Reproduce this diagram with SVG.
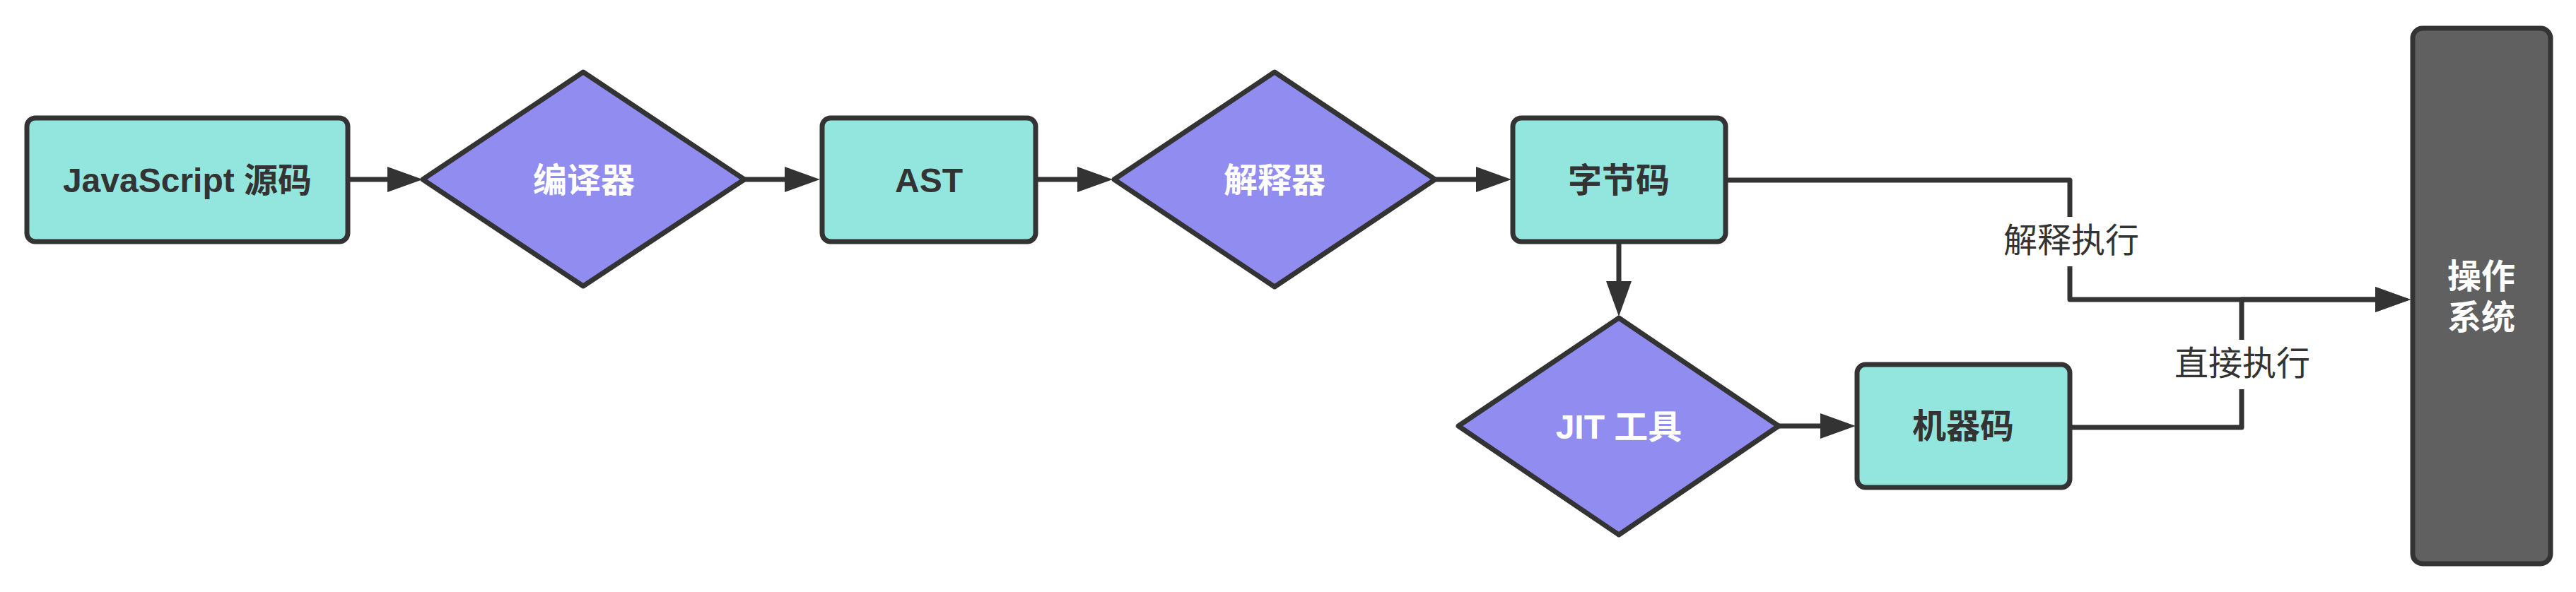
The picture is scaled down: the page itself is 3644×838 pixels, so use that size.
<svg xmlns="http://www.w3.org/2000/svg" width="3644" height="838" viewBox="0 0 3644 838">
<style>
.box{fill:#92E6DD;stroke:#333333;stroke-width:7}
.dia{fill:#908CF0;stroke:#333333;stroke-width:7;stroke-linejoin:round}
.os{fill:#606060;stroke:#333333;stroke-width:7}
.edge{fill:none;stroke:#333333;stroke-width:7;stroke-linejoin:round}
text{font-family:"Liberation Sans","Noto Sans CJK SC",sans-serif;font-size:48px;text-anchor:middle}
.dark{fill:#333333;font-weight:bold}
.light{fill:#ffffff;font-weight:bold}
.lbl{fill:#333333;font-weight:normal}
</style>
<defs>
<marker id="arrow" markerUnits="userSpaceOnUse" markerWidth="50" markerHeight="36" refX="0" refY="18" orient="auto" viewBox="0 0 50 36">
<path d="M0,0 L50,18 L0,36 Z" fill="#333333"/>
</marker>
</defs>
<rect width="3644" height="838" fill="#ffffff"/>
<g id="n-js"><rect class="box" x="38" y="167" width="454" height="175" rx="12"/><text class="dark" x="265" y="272">JavaScript 源码</text></g>
<g id="n-compiler"><polygon class="dia" points="598,254 825,102 1053,254 825,405"/><text class="light" x="826" y="272">编译器</text></g>
<g id="n-ast"><rect class="box" x="1163" y="167" width="302" height="175" rx="12"/><text class="dark" x="1314" y="272">AST</text></g>
<g id="n-interpreter"><polygon class="dia" points="1576,254 1803,102 2030,254 1803,406"/><text class="light" x="1803" y="272">解释器</text></g>
<g id="n-bytecode"><rect class="box" x="2140" y="167" width="301" height="175" rx="12"/><text class="dark" x="2290" y="272">字节码</text></g>
<g id="n-jit"><polygon class="dia" points="2063,603 2290,450 2516,603 2290,757"/><text class="light" x="2290" y="621">JIT 工具</text></g>
<g id="n-machine"><rect class="box" x="2627" y="516" width="301" height="174" rx="12"/><text class="dark" x="2777" y="620">机器码</text></g>
<g id="n-os"><rect class="os" x="3413" y="40" width="195" height="758" rx="14"/><text class="light" x="3510" y="408">操作</text><text class="light" x="3510" y="466">系统</text></g>
<g id="connectors">
<path class="edge" d="M492,254 H548" marker-end="url(#arrow)"/>
<path class="edge" d="M1053,254 H1110" marker-end="url(#arrow)"/>
<path class="edge" d="M1465,254 H1524" marker-end="url(#arrow)"/>
<path class="edge" d="M2030,254 H2088" marker-end="url(#arrow)"/>
<path class="edge" d="M2290,342 V398" marker-end="url(#arrow)"/>
<path class="edge" d="M2516,603 H2575" marker-end="url(#arrow)"/>
<path class="edge" d="M2441,255 H2928 V307"/>
<path class="edge" d="M2928,377 V424 H3360" marker-end="url(#arrow)"/>
<text class="lbl" x="2930" y="357">解释执行</text>
<path class="edge" d="M2928,605 H3171 V551"/>
<path class="edge" d="M3171,481 V424 H3360" marker-end="url(#arrow)"/>
<text class="lbl" x="3172" y="531">直接执行</text>
</g>
</svg>
